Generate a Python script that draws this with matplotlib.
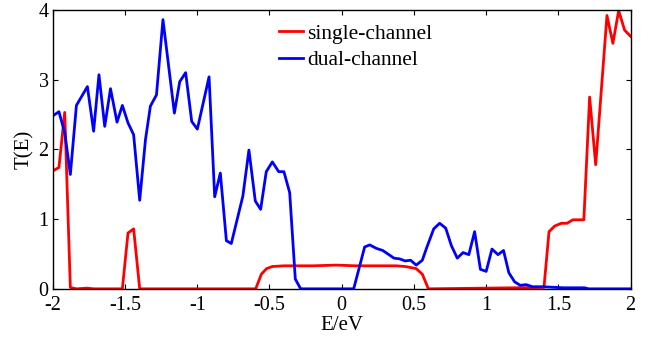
import numpy as np
import matplotlib
matplotlib.use('Agg')
import matplotlib.pyplot as plt

plt.rcParams['font.family'] = ['Liberation Serif', 'DejaVu Serif']
plt.rcParams['mathtext.fontset'] = 'stix'

# single-channel
e_single = [-2.0, -1.957, -1.917, -1.878, -1.836, -1.76, -1.717, -1.518, -1.479, -1.44, -1.398,
            -0.595, -0.556, -0.52, -0.48, -0.40, -0.28, -0.2, -0.037, 0.10, 0.377, 0.44, 0.516,
            0.558, 0.60, 1.40, 1.435, 1.474, 1.52, 1.56, 1.60, 1.676, 1.716, 1.758, 1.836,
            1.877, 1.917, 1.958, 2.0]
t_single = [1.69, 1.74, 2.53, 0.02, 0.0, 0.01, 0.0, 0.0, 0.80, 0.86, 0.0,
            0.0, 0.21, 0.29, 0.32, 0.33, 0.33, 0.33, 0.34, 0.33, 0.33, 0.32, 0.29,
            0.21, 0.0, 0.02, 0.82, 0.90, 0.94, 0.94, 0.99, 0.99, 2.75, 1.78, 3.92,
            3.52, 3.99, 3.71, 3.62]

# dual-channel
e_dual = [-2.0, -1.957, -1.917, -1.878, -1.836, -1.76, -1.717, -1.68, -1.64, -1.60, -1.555,
          -1.518, -1.479, -1.44, -1.398, -1.358, -1.324, -1.282, -1.237, -1.158, -1.121,
          -1.08, -1.038, -0.999, -0.918, -0.879, -0.840, -0.798, -0.764, -0.684, -0.642,
          -0.598, -0.561, -0.522, -0.480, -0.436, -0.40, -0.36, -0.321, -0.284, 0.083,
          0.159, 0.194, 0.24, 0.284, 0.327, 0.362, 0.40, 0.44, 0.477, 0.516, 0.558, 0.59,
          0.637, 0.678, 0.72, 0.759, 0.80, 0.84, 0.88, 0.92, 0.96, 1.0, 1.04, 1.082, 1.12,
          1.157, 1.197, 1.236, 1.277, 1.32, 1.39, 1.53, 1.68, 1.71, 2.0]
t_dual = [2.48, 2.54, 2.24, 1.64, 2.63, 2.90, 2.26, 3.07, 2.33, 2.87, 2.39,
          2.63, 2.38, 2.21, 1.27, 2.14, 2.62, 2.78, 3.86, 2.52, 2.97,
          3.10, 2.40, 2.29, 3.04, 1.32, 1.66, 0.69, 0.65, 1.33, 1.99,
          1.26, 1.14, 1.68, 1.82, 1.68, 1.68, 1.38, 0.14, 0.0, 0.0,
          0.60, 0.63, 0.58, 0.55, 0.49, 0.44, 0.43, 0.40, 0.41, 0.34, 0.41, 0.60,
          0.86, 0.94, 0.87, 0.62, 0.44, 0.52, 0.49, 0.82, 0.28, 0.25, 0.57, 0.49, 0.55,
          0.23, 0.10, 0.05, 0.06, 0.03, 0.03, 0.015, 0.015, 0.0, 0.0]

fig = plt.figure(figsize=(6.59, 3.41), dpi=100)
ax = fig.add_axes([0.080, 0.153, 0.877, 0.818])
ax.plot(e_single, t_single, color='r', lw=2.0, label='single-channel')
ax.plot(e_dual, t_dual, color='b', lw=2.0, label='dual-channel')

ax.set_xlim(-2, 2)
ax.set_ylim(0, 4)
ax.set_xticks([-2, -1.5, -1, -0.5, 0, 0.5, 1, 1.5, 2])
ax.set_xticklabels(['-2', '-1.5', '-1', '-0.5', '0', '0.5', '1', '1.5', '2'])
ax.set_yticks([0, 1, 2, 3, 4])
ax.tick_params(direction='in', top=True, right=True, labelsize=14.5, length=3.5,
               width=0.8)
ax.tick_params(axis='x', pad=5)
ax.tick_params(axis='y', pad=3)
for s in ax.spines.values():
    s.set_linewidth(1.0)
ax.set_xlabel('E/eV', fontsize=15, labelpad=1)
ax.set_ylabel('T(E)', fontsize=15, labelpad=3)
ax.legend(loc='upper center', bbox_to_anchor=(0.524, 1.0), frameon=False, fontsize=15.5,
          handlelength=1.1, handletextpad=0.2, labelspacing=0.3, borderaxespad=0.25)

fig.savefig('out.png', dpi=100)
